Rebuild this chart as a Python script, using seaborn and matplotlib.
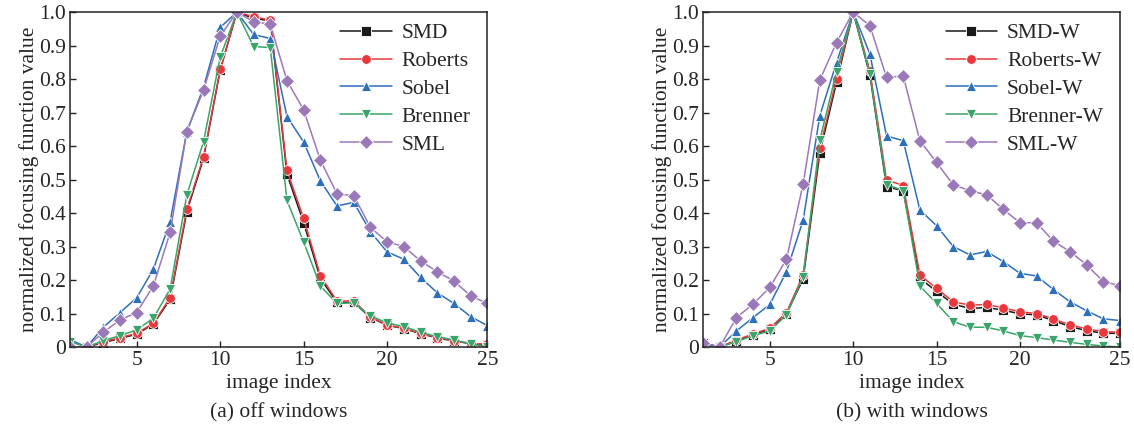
import numpy as np
import pandas as pd
import seaborn as sns
import matplotlib.pyplot as plt
from matplotlib.ticker import FuncFormatter

# image index 1..26 (the last tick is labelled 25 in the original figure)
index = list(range(1, 27))
xtick_pos = [5, 10, 15, 20, 26]
xtick_labels = ['5', '10', '15', '20', '25']

# (a) off windows
smd = [0.0, 0.0, 0.013, 0.026, 0.038, 0.069, 0.142, 0.404, 0.563, 0.827, 1.0, 0.981, 0.974,
       0.516, 0.371, 0.205, 0.133, 0.133, 0.088, 0.065, 0.055, 0.040, 0.027, 0.018, 0.010, 0.006]
roberts = [0.0, 0.0, 0.016, 0.028, 0.041, 0.071, 0.147, 0.411, 0.568, 0.829, 1.0, 0.986, 0.976,
           0.527, 0.384, 0.213, 0.137, 0.138, 0.089, 0.066, 0.056, 0.041, 0.028, 0.019, 0.011, 0.008]
sobel = [0.022, 0.0, 0.059, 0.103, 0.147, 0.233, 0.374, 0.643, 0.775, 0.954, 1.0, 0.933, 0.921,
         0.688, 0.612, 0.496, 0.421, 0.432, 0.344, 0.284, 0.262, 0.208, 0.162, 0.130, 0.091, 0.064]
brenner = [0.016, 0.0, 0.019, 0.034, 0.051, 0.086, 0.173, 0.454, 0.613, 0.865, 1.0, 0.897, 0.894,
           0.438, 0.313, 0.182, 0.130, 0.132, 0.093, 0.072, 0.061, 0.044, 0.031, 0.021, 0.009, 0.001]
sml = [0.0, 0.0, 0.044, 0.081, 0.103, 0.183, 0.342, 0.643, 0.767, 0.928, 1.0, 0.971, 0.964,
       0.795, 0.708, 0.558, 0.457, 0.452, 0.357, 0.314, 0.300, 0.257, 0.225, 0.197, 0.153, 0.130]

# (b) with windows
smd_w = [0.011, 0.0, 0.018, 0.036, 0.053, 0.100, 0.203, 0.580, 0.790, 1.0, 0.812, 0.479, 0.466,
         0.205, 0.166, 0.128, 0.115, 0.118, 0.110, 0.099, 0.096, 0.079, 0.061, 0.049, 0.041, 0.041]
roberts_w = [0.011, 0.0, 0.021, 0.039, 0.056, 0.103, 0.215, 0.593, 0.800, 1.0, 0.825, 0.499, 0.482,
             0.215, 0.175, 0.135, 0.125, 0.127, 0.117, 0.105, 0.100, 0.084, 0.066, 0.054, 0.046, 0.044]
sobel_w = [0.011, 0.0, 0.048, 0.088, 0.127, 0.225, 0.379, 0.691, 0.849, 1.0, 0.875, 0.630, 0.616,
           0.409, 0.362, 0.300, 0.275, 0.285, 0.255, 0.220, 0.212, 0.172, 0.135, 0.108, 0.084, 0.079]
brenner_w = [0.006, 0.0, 0.016, 0.034, 0.048, 0.096, 0.210, 0.618, 0.822, 1.0, 0.815, 0.485, 0.467,
             0.182, 0.130, 0.076, 0.059, 0.059, 0.048, 0.034, 0.028, 0.021, 0.014, 0.008, 0.003, 0.0]
sml_w = [0.013, 0.0, 0.088, 0.128, 0.178, 0.262, 0.487, 0.797, 0.909, 1.0, 0.959, 0.805, 0.809,
         0.616, 0.551, 0.484, 0.467, 0.454, 0.411, 0.371, 0.371, 0.316, 0.285, 0.245, 0.195, 0.183]

colors = ['#1a1a1a', '#e8383d', '#2c6fbb', '#3aa56a', '#9b78b8']
markers = ['s', 'o', '^', 'v', 'D']

names_a = ['SMD', 'Roberts', 'Sobel', 'Brenner', 'SML']
names_b = ['SMD-W', 'Roberts-W', 'Sobel-W', 'Brenner-W', 'SML-W']


def long_df(names, series):
    rows = []
    for n, s in zip(names, series):
        rows.append(pd.DataFrame({'index': index, 'value': s, 'method': n}))
    return pd.concat(rows, ignore_index=True)


df_a = long_df(names_a, [smd, roberts, sobel, brenner, sml])
df_b = long_df(names_b, [smd_w, roberts_w, sobel_w, brenner_w, sml_w])

sns.set_theme(style='ticks')
plt.rcParams['font.family'] = ['Liberation Serif', 'DejaVu Serif']

FS = 15.5

fig = plt.figure(figsize=(11.34, 4.30), dpi=100)
ax_a = fig.add_axes([0.0617, 0.193, 0.368, 0.779])
ax_b = fig.add_axes([0.620, 0.193, 0.3677, 0.779])

fmt = FuncFormatter(lambda v, p: '0' if abs(v) < 1e-9 else f'{v:.1f}')

for ax, df, names, caption in [(ax_a, df_a, names_a, '(a) off windows'),
                               (ax_b, df_b, names_b, '(b) with windows')]:
    sns.lineplot(data=df, x='index', y='value', hue='method', style='method',
                 hue_order=names, style_order=names,
                 palette=dict(zip(names, colors)), markers=dict(zip(names, markers)),
                 dashes=False, linewidth=1.1, markersize=7, markeredgewidth=0.6,
                 ax=ax, legend='brief')
    ax.set_xlim(1, 26)
    ax.set_ylim(0, 1.0)
    ax.set_xticks(xtick_pos)
    ax.set_xticklabels(xtick_labels)
    ax.set_yticks(np.arange(0, 1.01, 0.1))
    ax.yaxis.set_major_formatter(fmt)
    ax.tick_params(direction='in', length=4, width=1, labelsize=FS, pad=3, color='#222222')
    for sp in ax.spines.values():
        sp.set_visible(True)
        sp.set_linewidth(1.1)
        sp.set_color('#222222')
    ax.set_xlabel('image index', fontsize=FS, labelpad=3)
    ax.set_ylabel('normalized focusing function value', fontsize=FS, labelpad=0)
    ax.text(0.5, -0.167, caption, transform=ax.transAxes, ha='center', va='top', fontsize=FS)
    handles, labels = ax.get_legend_handles_labels()
    ax.legend(handles, labels, loc='upper right', frameon=False, fontsize=FS,
              handlelength=2.4, handletextpad=0.45, labelspacing=0.36,
              borderaxespad=0.2, bbox_to_anchor=(0.99, 1.005))

fig.savefig('out.png', dpi=100)
